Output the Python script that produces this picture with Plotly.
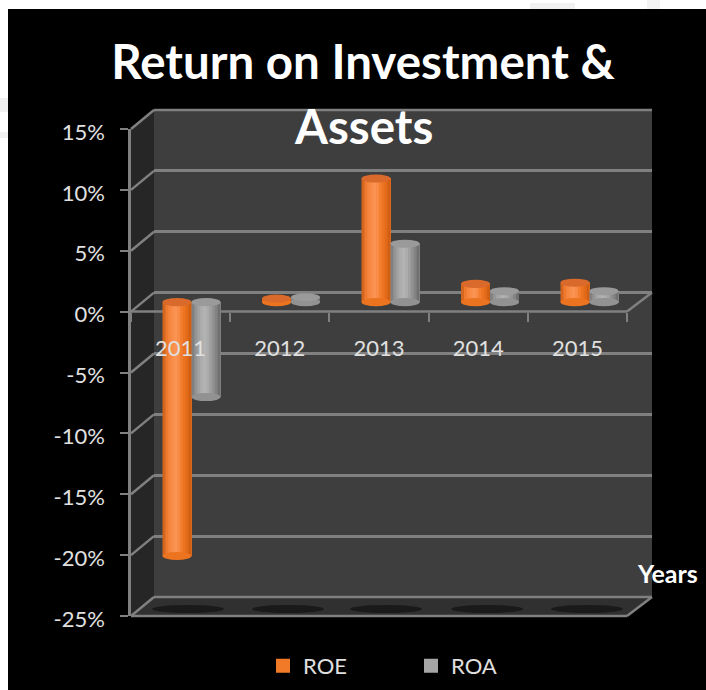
import plotly.graph_objects as go

years = ["2011", "2012", "2013", "2014", "2015"]
roe = [-20.85, 0.3, 10.15, 1.5, 1.6]
roa = [-7.8, 0.4, 4.8, 0.9, 0.9]
y_ticks = [15, 10, 5, 0, -5, -10, -15, -20, -25]
y_labels = ["15%", "10%", "5%", "0%", "-5%", "-10%", "-15%", "-20%", "-25%"]
orange_strips = ["#d4651f", "#ee7a30", "#f6853e", "#f98d4a", "#fa9353", "#f98c48",
                 "#f37e2f", "#ec7420", "#e26a18", "#cf5f14"]
gray_strips = ["#808080", "#949494", "#a3a3a3", "#adadad", "#b3b3b3", "#adadad",
               "#a0a0a0", "#929292", "#838383", "#707070"]
orange_cap = "#d96a2b"
gray_cap = "#9a9a9a"

W, H = 706, 690
def fx(p): return p / W
def fy(p): return 1 - p / H

GRID = "#808080"
TXT = "#e0e0e0"
FONT = "Lato"
BW = 29 / 99.5  # bar width, in category units

fig = go.Figure()
n = len(orange_strips)
for series, vals, cols, side in (("ROE", roe, orange_strips, -1), ("ROA", roa, gray_strips, 0)):
    # each strip reaches the bar's right edge and the next one paints over it: no seams
    for i, c in enumerate(cols):
        fig.add_trace(go.Bar(
            x=years, y=vals, xaxis="x2", yaxis="y2", name=series,
            width=BW * (n - i) / n, offset=side * BW + i * BW / n,
            marker=dict(color=c, line=dict(width=0)),
            showlegend=False, hoverinfo="skip",
        ))
for series, c in (("ROE", "#f07a28"), ("ROA", "#a6a6a6")):
    fig.add_trace(go.Bar(x=[None], y=[None], xaxis="x2", yaxis="y2", name=series,
                         marker=dict(color=c, line=dict(width=2, color=c)), showlegend=True))
fig.add_trace(go.Scatter(x=years, y=[0] * 5, xaxis="x3", yaxis="y3", mode="markers",
                         marker=dict(opacity=0), showlegend=False, hoverinfo="skip"))
fig.add_trace(go.Scatter(x=years, y=[0] * 5, xaxis="x", yaxis="y", mode="markers",
                         marker=dict(opacity=0), showlegend=False, hoverinfo="skip"))

shapes = []
def poly(pts, fill, layer="below"):
    d = "M" + " L".join(f"{fx(x):.5f},{fy(y):.5f}" for x, y in pts) + " Z"
    shapes.append(dict(type="path", xref="paper", yref="paper", path=d, fillcolor=fill,
                       line=dict(width=0), layer=layer))
def seg(x0, y0, x1, y1, color=GRID, width=2.5):
    shapes.append(dict(type="line", xref="paper", yref="paper", x0=fx(x0), y0=fy(y0),
                       x1=fx(x1), y1=fy(y1), line=dict(color=color, width=width), layer="below"))

poly([(8, 9), (706, 9), (706, 690), (8, 690)], "#000000")
# faint marks on the white page
poly([(0, 98), (8, 98), (8, 112), (0, 112)], "#f1f1f1")
poly([(0, 132), (8, 132), (8, 138), (0, 138)], "#f1f1f1")
poly([(530, 3), (575, 3), (575, 9), (530, 9)], "#f1f1f1")
poly([(647, 0), (660, 0), (660, 9), (647, 9)], "#f3f3f3")
# walls and floor
poly([(154, 110), (652, 110), (652, 597), (154, 597)], "#3e3e3e")
poly([(131, 129), (154, 110), (154, 597), (131, 616)], "#262626")
poly([(131, 616), (154, 597), (652, 597), (627, 616)], "#303030")
for c in (188, 288, 386, 487, 587):
    shapes.append(dict(type="circle", xref="paper", yref="paper", x0=fx(c - 36), x1=fx(c + 36),
                       y0=fy(613), y1=fy(605), fillcolor="#1a1a1a", line=dict(width=0), layer="below"))
for k in range(9):
    yf = 129 + k * 60.875
    seg(131, yf, 154, yf - 19)
seg(154, 110, 652, 110)
seg(154, 597, 652, 597)
seg(131, 616, 627, 616)
seg(627, 616, 652, 597)
seg(627, 311.5, 652, 292.5)
seg(131, 311.5, 627, 311.5)

# cylinder caps, placed from the data in the bars' own axes
CAP = 0.33
for vals, cols, cap, side in ((roe, orange_strips, orange_cap, -1), (roa, gray_strips, gray_cap, 0)):
    for i, v in enumerate(vals):
        x0 = i + side * BW
        x1 = x0 + BW
        low = min(v, 0)
        shapes.append(dict(type="circle", xref="x2", yref="y2", x0=x0, x1=x1, y0=low - CAP, y1=low + CAP,
                           fillcolor=cols[7], line=dict(width=0), layer="above"))
        shapes.append(dict(type="circle", xref="x2", yref="y2", x0=x0, x1=x1, y0=max(v, 0) - CAP,
                           y1=max(v, 0) + CAP, fillcolor=cap, line=dict(width=0), layer="above"))

xcommon = dict(type="category", categoryorder="array", categoryarray=years, range=[-0.5, 4.5], automargin=False)
axis_off = dict(showgrid=False, zeroline=False, showticklabels=False, ticks="", showline=False)
fig.update_layout(
    width=W, height=H, margin=dict(l=0, r=0, t=0, b=0),
    paper_bgcolor="white", plot_bgcolor="rgba(0,0,0,0)",
    barmode="overlay", shapes=shapes, font=dict(family=FONT, color=TXT, size=22),
    title=dict(text="<b>Return on Investment &</b>", x=363 / W, xanchor="center", y=fy(62), yanchor="middle",
               font=dict(family=FONT, size=47.5, color="white")),
    annotations=[
        dict(text="<b>Assets</b>", xref="paper", yref="paper", x=363 / W, y=fy(125), showarrow=False,
             xanchor="center", yanchor="middle", font=dict(family=FONT, size=47.5, color="white")),
        dict(text="<b>Years</b>", xref="paper", yref="paper", x=fx(667), y=fy(573), showarrow=False,
             xanchor="center", yanchor="middle", font=dict(family=FONT, size=25, color="white")),
    ],
    legend=dict(orientation="h", x=fx(263), xanchor="left", y=fy(666),
                yanchor="middle", entrywidth=103, entrywidthmode="pixels", bgcolor="rgba(0,0,0,0)",
                font=dict(family=FONT, size=22, color=TXT), traceorder="normal"),
    xaxis=dict(domain=[fx(154), fx(652)], anchor="y", **xcommon, **axis_off),
    yaxis=dict(domain=[fy(597), fy(110)], range=[-25, 15], tickvals=y_ticks, anchor="x", automargin=False,
               showgrid=True, gridcolor=GRID, gridwidth=2.5, zeroline=False, showticklabels=False,
               ticks="", showline=False),
    xaxis2=dict(domain=[fx(141.75), fx(639.25)], anchor="y2", **xcommon, **axis_off),
    yaxis2=dict(domain=[fy(606.5), fy(119.5)], range=[-25, 15], anchor="x2", automargin=False, **axis_off),
    xaxis3=dict(domain=[fx(131), fx(627)], **xcommon,
                anchor="free", position=fy(311.5), side="bottom", tickson="boundaries", ticks="outside",
                ticklen=9, tickwidth=1.5, tickcolor=GRID, showline=False,
                showgrid=False, zeroline=False, ticklabelstandoff=21,
                tickfont=dict(family=FONT, size=22, color=TXT)),
    yaxis3=dict(domain=[fy(616), fy(129)], range=[-25, 15], tickvals=y_ticks, ticktext=y_labels,
                anchor="x3", ticks="outside", ticklen=8, tickwidth=1.5, tickcolor=GRID, automargin=False,
                showline=True, linecolor=GRID, linewidth=2.5, showgrid=False, zeroline=False,
                ticklabelstandoff=11, ticklabelshift=3, tickfont=dict(family=FONT, size=22, color=TXT)),
)
fig.write_html("out.html", config=dict(displayModeBar=False), post_script="document.body.style.margin='0';")
